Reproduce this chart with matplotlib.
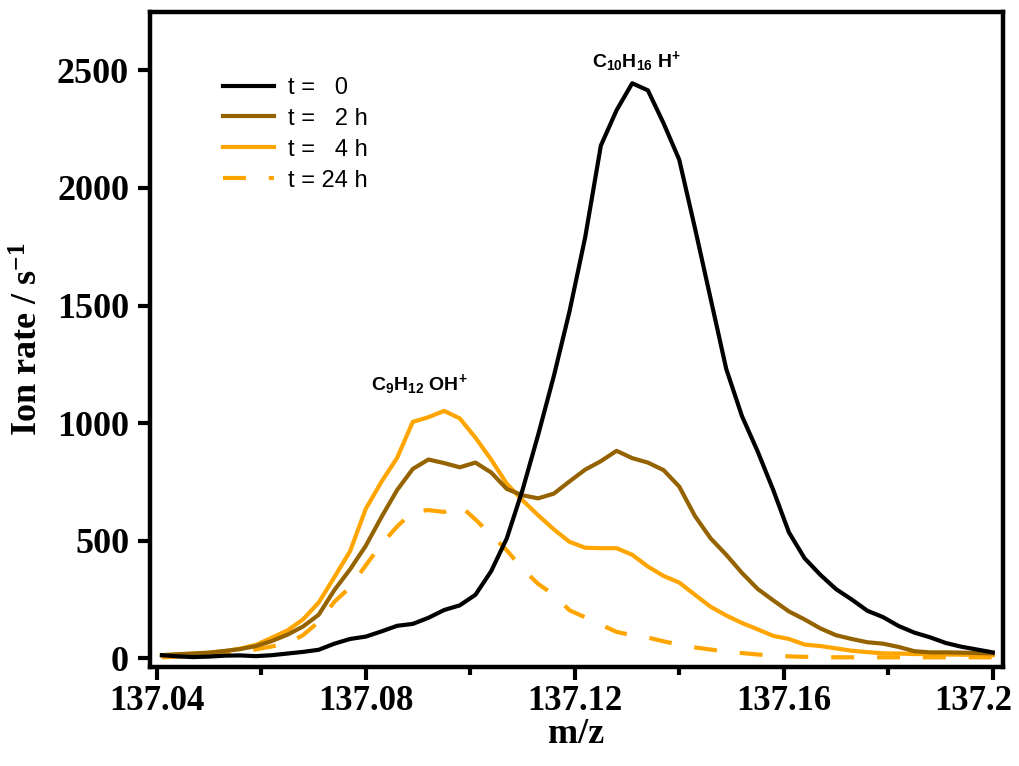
import matplotlib
matplotlib.use("Agg")
import matplotlib.pyplot as plt
import matplotlib.transforms as mtransforms

plt.rcParams['font.family'] = 'Liberation Serif'
plt.rcParams['font.weight'] = 'bold'
plt.rcParams['mathtext.default'] = 'regular'

# m/z grid shared by all spectra
mz = [137.041, 137.044, 137.047, 137.050, 137.053, 137.056, 137.059, 137.062, 137.065, 137.068,
      137.071, 137.074, 137.077, 137.080, 137.083, 137.086, 137.089, 137.092, 137.095, 137.098,
      137.101, 137.104, 137.107, 137.110, 137.113, 137.116, 137.119, 137.122, 137.125, 137.128,
      137.131, 137.134, 137.137, 137.140, 137.143, 137.146, 137.149, 137.152, 137.155, 137.158,
      137.161, 137.164, 137.167, 137.170, 137.173, 137.176, 137.179, 137.182, 137.185, 137.188,
      137.191, 137.194, 137.197, 137.200]

# ion rates (s^-1) at each time
rate_0h = [13, 8, 5, 7, 11, 12, 9, 13, 20, 27,
           36, 62, 82, 92, 114, 138, 146, 172, 205, 225,
           270, 370, 510, 715, 950, 1200, 1475, 1790, 2180, 2330,
           2445, 2415, 2275, 2120, 1830, 1530, 1230, 1030, 880, 715,
           535, 425, 355, 294, 250, 202, 175, 137, 109, 89,
           65, 49, 37, 25]

rate_2h = [13, 17, 20, 24, 31, 39, 52, 73, 100, 135,
           185, 290, 378, 478, 600, 715, 805, 845, 830, 812,
           832, 790, 720, 693, 680, 700, 752, 802, 838, 882,
           851, 832, 800, 730, 605, 510, 440, 363, 295, 246,
           199, 165, 127, 98, 82, 68, 62, 48, 30, 25,
           25, 24, 22, 21]

rate_4h = [13, 16, 20, 23, 30, 41, 57, 87, 118, 165,
           237, 345, 455, 635, 750, 852, 1005, 1025, 1052, 1020,
           938, 845, 742, 672, 608, 548, 495, 470, 468, 468,
           440, 390, 350, 322, 270, 219, 182, 150, 123, 95,
           82, 58, 52, 42, 32, 26, 21, 20, 18, 17,
           16, 15, 14, 13]

rate_24h = [4, 7, 9, 12, 17, 28, 38, 50, 63, 98,
            155, 240, 302, 395, 485, 560, 623, 630, 622, 650,
            590, 525, 459, 380, 316, 270, 204, 174, 143, 112,
            98, 88, 72, 58, 46, 37, 28, 22, 16, 11,
            8, 6, 5, 4, 4, 4, 4, 4, 4, 4,
            4, 4, 4, 4]

labels = ["t =   0", "t =   2 h", "t =   4 h", "t = 24 h"]
xticks = [137.04, 137.08, 137.12, 137.16, 137.2]
xtick_labels = ["137.04", "137.08", "137.12", "137.16", "137.2"]
yticks = [0, 500, 1000, 1500, 2000, 2500]

fig = plt.figure(figsize=(10.2, 7.66), dpi=100)
ax = fig.add_axes([0.147, 0.129, 0.836, 0.855])

brown = "#946300"
orange = "#FFA500"
ax.plot(mz, rate_24h, color=orange, lw=3, dashes=(5.5, 5.5), label=labels[3])
ax.plot(mz, rate_4h, color=orange, lw=3, label=labels[2])
ax.plot(mz, rate_2h, color=brown, lw=3, label=labels[1])
ax.plot(mz, rate_0h, color="black", lw=3, label=labels[0])

ax.set_xlim(137.0387, 137.2019)
ax.set_ylim(-38, 2747)

ax.set_xticks(xticks)
ax.set_xticklabels(xtick_labels)
ax.set_xticks([137.06, 137.10, 137.14, 137.18], minor=True)
ax.set_yticks(yticks)
ax.tick_params(axis='both', which='major', direction='out', length=9, width=3)
ax.tick_params(axis='x', which='major', labelsize=25, pad=4)
ax.tick_params(axis='y', which='major', labelsize=26, pad=6)
ax.tick_params(axis='x', which='minor', direction='out', length=6, width=3)
for side in ax.spines.values():
    side.set_linewidth(3.2)

# keep the last x label inside the figure
last = ax.get_xticklabels()[-1]
last.set_horizontalalignment('right')
last.set_transform(last.get_transform() +
                   mtransforms.ScaledTranslation(0.2, 0, fig.dpi_scale_trans))

ax.set_xlabel("m/z", fontsize=26, weight='bold', labelpad=0)
ax.set_ylabel("Ion rate / s$^{-1}$", fontsize=26, weight='bold', labelpad=8)

# peak assignments
ax.text(137.1319, 2513, "C$_{10}$H$_{16}$ H$^{+}$", ha='center', va='baseline',
        fontsize=14, family='Liberation Sans', weight='bold')
ax.text(137.0903, 1139, "C$_{9}$H$_{12}$ OH$^{+}$", ha='center', va='baseline',
        fontsize=14, family='Liberation Sans', weight='bold')

handles, names = ax.get_legend_handles_labels()
order = [3, 2, 1, 0]
leg = ax.legend([handles[i] for i in order], [names[i] for i in order],
                loc='upper left', bbox_to_anchor=(0.0856, 0.9015), frameon=False,
                borderpad=0, borderaxespad=0, handlelength=2.16, handletextpad=0.6,
                labelspacing=0.38, prop={'family': 'Liberation Sans', 'size': 17, 'weight': 'normal'})

fig.savefig("out.png", dpi=100)
